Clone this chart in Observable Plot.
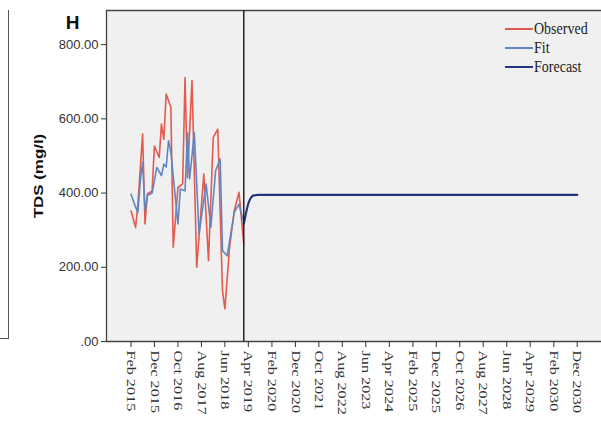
<!DOCTYPE html>
<html><head><meta charset="utf-8">
<script src="https://cdn.jsdelivr.net/npm/d3@7"></script>
<script src="https://cdn.jsdelivr.net/npm/@observablehq/plot@0.6"></script>
<style>
body{margin:0;background:#fff;}
#wrap{position:relative;width:601px;height:421px;overflow:hidden;}
#frag{position:absolute;left:0;top:10px;width:8px;height:328px;border-right:1.5px solid #555;border-bottom:1.5px solid #555;}
#legend{position:absolute;left:505px;top:19px;font-family:"Liberation Serif","Times New Roman",serif;font-size:14px;color:#222;}
#legend .row{height:19px;display:flex;align-items:center;}
#legend .row span{display:inline-block;transform:scaleY(1.25);margin-left:1px;}
</style></head><body><div id="wrap"><div id="frag"></div><div id="legend"></div></div>
<script>
// ---- data ----
const obsMonths = ["2015-02","2015-04","2015-05","2015-07","2015-08","2015-09","2015-11","2015-12","2016-02","2016-03","2016-04","2016-05","2016-07","2016-08","2016-10","2016-12","2017-01","2017-02","2017-04","2017-06","2017-09","2017-11","2018-01","2018-03","2018-05","2018-06","2018-08","2018-10","2018-12","2019-02"];
const obsValues = [352,307,371,559,317,398,405,527,496,586,545,667,631,254,415,425,711,442,703,200,451,218,550,572,137,88,254,353,402,263];

const fitMonths = ["2015-02","2015-04","2015-05","2015-06","2015-07","2015-08","2015-09","2015-11","2016-01","2016-03","2016-04","2016-05","2016-06","2016-07","2016-10","2016-11","2017-01","2017-02","2017-03","2017-05","2017-07","2017-10","2017-12","2018-02","2018-04","2018-05","2018-07","2018-10","2018-12","2019-02"];
const fitValues = [397,362,348,433,483,353,393,400,469,447,478,470,541,510,317,411,406,563,438,563,290,424,308,460,492,245,231,348,370,320];

const forecastMonths = ["2019-02","2019-03","2019-04","2019-05","2019-06","2019-08","2030-12"];
const forecastValues = [317,345,372,386,393,395,395];

const seriesNames = ["Observed","Fit","Forecast"];
const seriesColors = ["#e35a4f","#5f86c2","#24347f"];

const xTickLabels = ["Feb 2015","Dec 2015","Oct 2016","Aug 2017","Jun 2018","Apr 2019","Feb 2020","Dec 2020","Oct 2021","Aug 2022","Jun 2023","Apr 2024","Feb 2025","Dec 2025","Oct 2026","Aug 2027","Jun 2028","Apr 2029","Feb 2030","Dec 2030"];
const yTicks = [0,200,400,600,800];
const yLabel = "TDS (mg/l)";
const panelLabel = "H";

// ---- build ----
const parseM = d3.utcParse("%Y-%m");
const parseTick = d3.utcParse("%b %Y");
const observed = obsMonths.map((m,i)=>({date:parseM(m), value:obsValues[i]}));
const fitted = fitMonths.map((m,i)=>({date:parseM(m), value:fitValues[i]}));
const forecast = forecastMonths.map((m,i)=>({date:parseM(m), value:forecastValues[i]}));
const xTicks = xTickLabels.map(parseTick);
const cutoff = observed[observed.length-1].date;
const xDomain = [new Date(Date.UTC(2014,2,20)), new Date(Date.UTC(2031,9,12))];
const yDomain = [0, 892];

const chart = Plot.plot({
  width:601, height:421,
  marginLeft:106, marginRight:0, marginTop:10, marginBottom:80,
  style:{background:"transparent", fontFamily:"'Liberation Sans', Arial, sans-serif", color:"#333"},
  x:{type:"utc", domain:xDomain},
  y:{domain:yDomain},
  marks:[
    Plot.frame({fill:"#f0f0f0", stroke:"none"}),
    Plot.ruleY([yDomain[0]], {stroke:"#444", strokeWidth:1.3}),
    Plot.ruleY([yDomain[1]], {stroke:"#444", strokeWidth:1.3}),
    Plot.ruleX([xDomain[0]], {stroke:"#444", strokeWidth:1.3}),
    Plot.line(observed, {x:"date", y:"value", stroke:seriesColors[0], strokeWidth:1.6}),
    Plot.line(fitted, {x:"date", y:"value", stroke:seriesColors[1], strokeWidth:1.6}),
    Plot.line(forecast, {x:"date", y:"value", stroke:seriesColors[2], strokeWidth:2.2, curve:"monotone-x"}),
    Plot.ruleX([cutoff], {stroke:"#222", strokeWidth:1.5}),
    Plot.axisY({ticks:yTicks, tickFormat:d => d === 0 ? ".00" : d.toFixed(2), tickSize:5, tickPadding:3, fontSize:13, label:null}),
    Plot.axisX({ticks:xTicks, tickFormat:d3.utcFormat("%b %Y"), tickRotate:90, tickSize:6, tickPadding:3, fontSize:12, label:null}),
    Plot.text([yLabel], {text:d=>d, frameAnchor:"left", dx:-68, rotate:-90, textAnchor:"middle", lineAnchor:"middle", fontWeight:"bold", fontSize:13, fill:"#111"}),
    Plot.text([panelLabel], {text:d=>d, frameAnchor:"top-left", dx:-34, dy:12, textAnchor:"middle", lineAnchor:"middle", fontWeight:"bold", fontSize:19, fill:"#111"})
  ]
});
document.getElementById("wrap").appendChild(chart);

// stretch texts like the reference
const svg = d3.select(chart);
svg.selectAll('g[aria-label="x-axis tick label"] text').each(function(){
  const t = this.getAttribute("transform") || "";
  this.setAttribute("transform", t + " scale(1.35,1)");
  this.setAttribute("font-family", "'Liberation Serif', serif");
});
svg.selectAll("text").each(function(){
  if (this.textContent === yLabel) {
    this.setAttribute("transform", (this.getAttribute("transform")||"") + " scale(1.3,1)");
  }
});

// legend
const legend = d3.select("#legend");
seriesNames.forEach((name,i)=>{
  const row = legend.append("div").attr("class","row");
  row.append("svg").attr("width",28).attr("height",4)
    .append("line").attr("x1",0).attr("x2",28).attr("y1",2).attr("y2",2)
    .attr("stroke",seriesColors[i]).attr("stroke-width",2);
  row.append("span").text(name);
});
</script></body></html>
